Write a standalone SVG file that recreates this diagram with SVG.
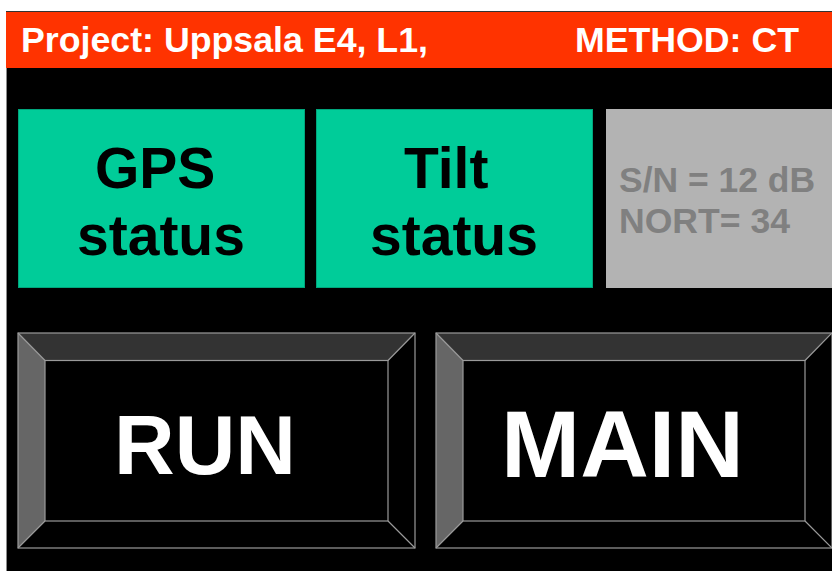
<svg xmlns="http://www.w3.org/2000/svg" width="832" height="571" viewBox="0 0 832 571">
<style>
text{font-family:"Liberation Sans",Arial,sans-serif;font-weight:bold}
.hdr{fill:#ffffff;font-size:35px}
.st{fill:#000000;font-size:57px}
.gr{fill:#808080;font-size:35px}
.btn{fill:#ffffff}
.green{fill:#00cc99;stroke:#00a67c;stroke-width:1}
.edge{stroke:#9a9a9a;stroke-width:1.2;fill:none}
</style>
<rect x="0" y="0" width="832" height="571" fill="#ffffff"/>
<g id="screen">
<rect x="6" y="11" width="826" height="560" fill="#000000"/>
<line x1="6.5" y1="11" x2="6.5" y2="571" stroke="#8c8c8c" stroke-width="1"/>
</g>
<g id="header">
<rect x="6" y="11" width="826" height="57" fill="#ff3300"/>
<line x1="6" y1="11.5" x2="832" y2="11.5" stroke="#333333" stroke-width="1"/>
<text class="hdr" x="21" y="52" textLength="407" lengthAdjust="spacingAndGlyphs">Project: Uppsala E4, L1,</text>
<text class="hdr" x="575" y="52" textLength="224" lengthAdjust="spacingAndGlyphs">METHOD: CT</text>
</g>
<g id="gps">
<rect class="green" x="18.5" y="109.5" width="286" height="178"/>
<text class="st" x="95" y="188">GPS</text>
<text class="st" x="77" y="255">status</text>
</g>
<g id="tilt">
<rect class="green" x="316.5" y="109.5" width="276" height="178"/>
<text class="st" x="404" y="188">Tilt</text>
<text class="st" x="370" y="255">status</text>
</g>
<g id="sn">
<rect x="606" y="109" width="226" height="179" fill="#b3b3b3"/>
<text class="gr" x="619" y="192" textLength="196" lengthAdjust="spacingAndGlyphs">S/N = 12 dB</text>
<text class="gr" x="619" y="233" textLength="171" lengthAdjust="spacingAndGlyphs">NORT= 34</text>
</g>
<g id="run">
<rect x="18" y="333" width="397" height="215" fill="#000000"/>
<polygon points="18,333 415,333 388,360.5 45,360.5" fill="#333333"/>
<polygon points="18,333 45,360.5 45,521 18,548" fill="#666666"/>
<rect class="edge" x="18" y="333" width="397" height="215"/>
<rect class="edge" x="45" y="360.5" width="343" height="160.5"/>
<path class="edge" d="M18,333 L45,360.5 M415,333 L388,360.5 M18,548 L45,521 M415,548 L388,521"/>
<text class="btn" x="114" y="474" font-size="84">RUN</text>
</g>
<g id="main">
<rect x="436" y="333" width="396" height="215" fill="#000000"/>
<polygon points="436,333 832,333 805,360.5 463,360.5" fill="#333333"/>
<polygon points="436,333 463,360.5 463,521 436,548" fill="#666666"/>
<rect class="edge" x="436" y="333" width="396" height="215"/>
<rect class="edge" x="463" y="360.5" width="342" height="160.5"/>
<path class="edge" d="M436,333 L463,360.5 M832,333 L805,360.5 M436,548 L463,521 M832,548 L805,521"/>
<text class="btn" x="501" y="477" font-size="95">MAIN</text>
</g>
<g id="connectors"/>
</svg>
